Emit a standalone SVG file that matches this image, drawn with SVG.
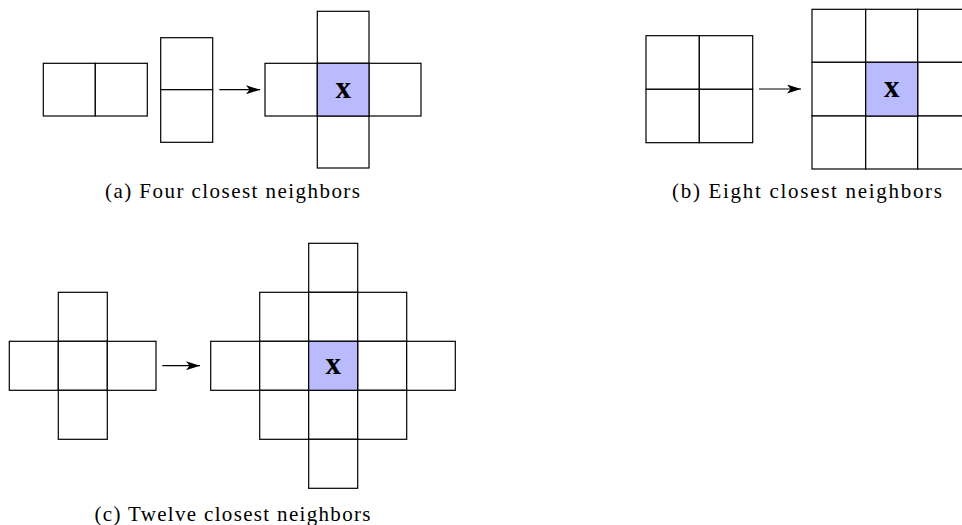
<svg xmlns="http://www.w3.org/2000/svg" width="962" height="525" viewBox="0 0 962 525">
<defs>
<style>
.c{fill:#ffffff;stroke:#000;stroke-width:1.2}
.h{fill:#babaff;stroke:#000;stroke-width:1.2}
.ln{stroke:#000;stroke-width:1.2;fill:none}
.x{font-family:"Liberation Serif","DejaVu Serif",serif;font-weight:bold;font-size:31px;text-anchor:middle;fill:#000}
.cap{font-family:"Liberation Serif","DejaVu Serif",serif;font-size:21px;text-anchor:middle;fill:#000}
</style>
<marker id="ah" viewBox="0 0 14 9" refX="14" refY="4.5" markerWidth="14" markerHeight="9" markerUnits="userSpaceOnUse" orient="auto">
<path d="M0,0 L14,4.5 L0,9 L3.5,4.5 Z" fill="#000"/>
</marker>
</defs>
<rect width="962" height="525" fill="#fff"/>

<g id="panel-a">
<g id="a-pair-h">
<rect class="c" x="43.3" y="63.3" width="52" height="52.7"/>
<rect class="c" x="95.3" y="63.3" width="52" height="52.7"/>
</g>
<g id="a-pair-v">
<rect class="c" x="160.7" y="37.7" width="52" height="52"/>
<rect class="c" x="160.7" y="89.7" width="52" height="52.6"/>
</g>
<g id="a-cross">
<rect class="c" x="317.3" y="11.3" width="51.7" height="52"/>
<rect class="c" x="265" y="63.3" width="52.3" height="52.7"/>
<rect class="c" x="369" y="63.3" width="52" height="52.7"/>
<rect class="c" x="317.3" y="116" width="51.7" height="52"/>
<rect class="h" x="317.3" y="63.3" width="51.7" height="52.7"/>
<text class="x" x="343.2" y="97.5">x</text>
</g>
<text class="cap" x="232.5" y="198" textLength="255" lengthAdjust="spacing">(a) Four closest neighbors</text>
</g>

<g id="panel-b">
<g id="b-square">
<rect class="c" x="646" y="35.7" width="53.3" height="53.6"/>
<rect class="c" x="699.3" y="35.7" width="53.4" height="53.6"/>
<rect class="c" x="646" y="89.3" width="53.3" height="53.4"/>
<rect class="c" x="699.3" y="89.3" width="53.4" height="53.4"/>
</g>
<g id="b-grid">
<rect class="c" x="812" y="9.3" width="53.7" height="53"/>
<rect class="c" x="865.7" y="9.3" width="52" height="53"/>
<rect class="c" x="917.7" y="9.3" width="53" height="53"/>
<rect class="c" x="812" y="62.3" width="53.7" height="53.7"/>
<rect class="c" x="917.7" y="62.3" width="53" height="53.7"/>
<rect class="c" x="812" y="116" width="53.7" height="53"/>
<rect class="c" x="865.7" y="116" width="52" height="53"/>
<rect class="c" x="917.7" y="116" width="53" height="53"/>
<rect class="h" x="865.7" y="62.3" width="52" height="53.7"/>
<text class="x" x="891.7" y="97">x</text>
</g>
<text class="cap" x="807" y="198" textLength="270" lengthAdjust="spacing">(b) Eight closest neighbors</text>
</g>

<g id="panel-c">
<g id="c-cross">
<rect class="c" x="58.3" y="292.3" width="49" height="49"/>
<rect class="c" x="9.3" y="341.3" width="49" height="49"/>
<rect class="c" x="58.3" y="341.3" width="49" height="49"/>
<rect class="c" x="107.3" y="341.3" width="48.7" height="49"/>
<rect class="c" x="58.3" y="390.3" width="49" height="49"/>
</g>
<g id="c-diamond">
<rect class="c" x="308.7" y="243.3" width="49" height="49"/>
<rect class="c" x="259.7" y="292.3" width="49" height="49"/>
<rect class="c" x="308.7" y="292.3" width="49" height="49"/>
<rect class="c" x="357.7" y="292.3" width="49" height="49"/>
<rect class="c" x="210.7" y="341.3" width="49" height="49"/>
<rect class="c" x="259.7" y="341.3" width="49" height="49"/>
<rect class="c" x="357.7" y="341.3" width="49" height="49"/>
<rect class="c" x="406.7" y="341.3" width="48.6" height="49"/>
<rect class="c" x="259.7" y="390.3" width="49" height="49"/>
<rect class="c" x="308.7" y="390.3" width="49" height="49"/>
<rect class="c" x="357.7" y="390.3" width="49" height="49"/>
<rect class="c" x="308.7" y="439.3" width="49" height="49"/>
<rect class="h" x="308.7" y="341.3" width="49" height="49"/>
<text class="x" x="333.2" y="373.5">x</text>
</g>
<text class="cap" x="232.5" y="521" textLength="276" lengthAdjust="spacing">(c) Twelve closest neighbors</text>
</g>

<g id="connectors">
<line class="ln" x1="219.3" y1="89.7" x2="260" y2="89.7" marker-end="url(#ah)"/>
<line class="ln" x1="759" y1="89" x2="801" y2="89" marker-end="url(#ah)"/>
<line class="ln" x1="162.3" y1="365.7" x2="200" y2="365.7" marker-end="url(#ah)"/>
</g>
</svg>
